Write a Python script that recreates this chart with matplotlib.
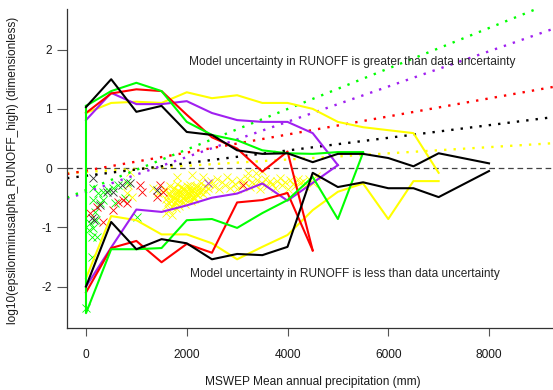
import matplotlib
matplotlib.use("Agg")
import matplotlib.pyplot as plt
import numpy as np

plt.rcParams['font.family'] = ['Liberation Sans', 'DejaVu Sans']
plt.rcParams['font.size'] = 8.6

# Series colours
C_BLACK = "black"
C_RED = "#FF0000"
C_GREEN = "#00FF00"
C_PURPLE = "#A020F0"
C_YELLOW = "#FFFF00"

# Upper / lower envelopes, precipitation (mm) vs log10 ratio
black_up_x = [0, 500, 1000, 1500, 2000, 2500, 3000, 3500, 4000, 4500, 5000, 5500, 6000, 6500, 7000, 8000]
black_up_y = [1.03, 1.50, 0.95, 1.05, 0.61, 0.56, 0.30, 0.24, 0.25, 0.10, 0.24, 0.24, 0.17, 0.03, 0.25, 0.08]
black_lo_x = [0, 500, 1000, 1500, 2000, 2500, 3000, 3500, 4000, 4500, 5000, 5500, 6000, 6500, 7000, 8000]
black_lo_y = [-2.00, -0.91, -1.37, -1.20, -1.27, -1.54, -1.45, -1.47, -1.33, -0.08, -0.32, -0.24, -0.34, -0.34, -0.49, -0.05]

red_up_x = [0, 500, 1000, 1500, 2000, 2500, 3000, 3500, 4000, 4500]
red_up_y = [0.93, 1.26, 1.33, 1.30, 0.90, 0.52, 0.33, -0.06, 0.28, -1.39]
red_lo_x = [0, 500, 1000, 1500, 2000, 2500, 3000, 3500, 4000, 4500]
red_lo_y = [-2.10, -1.35, -1.23, -1.59, -1.28, -1.43, -0.58, -0.54, -0.42, -1.39]

green_up_x = [0, 500, 1000, 1500, 2000, 2500, 3000, 3500, 4000, 4500, 5000, 5500]
green_up_y = [1.05, 1.30, 1.44, 1.30, 0.78, 0.56, 0.47, 0.30, 0.25, 0.24, 0.27, 0.27]
green_lo_x = [0, 0, 500, 1000, 1500, 2000, 2500, 3000, 3500, 4000, 4500, 5000, 5500]
green_lo_y = [1.05, -2.45, -1.37, -1.37, -1.35, -0.88, -0.86, -1.01, -0.76, -0.54, -0.15, -0.86, 0.26]

purple_up_x = [0, 500, 1000, 1500, 2000, 2500, 3000, 3500, 4000, 4500, 5000]
purple_up_y = [0.81, 1.27, 1.08, 1.08, 1.13, 0.93, 0.81, 0.78, 0.78, 0.59, 0.05]
purple_lo_x = [0, 500, 1000, 1500, 2000, 2500, 3000, 3500, 4000, 5000]
purple_lo_y = [-2.00, -1.34, -0.70, -0.74, -0.63, -0.50, -0.43, -0.26, -0.55, 0.05]

yellow_up_x = [0, 500, 1000, 1500, 2000, 2500, 3000, 3500, 4000, 4500, 5000, 5500, 6000, 6500, 7000]
yellow_up_y = [0.93, 1.10, 1.12, 1.10, 1.28, 1.18, 1.23, 1.10, 1.10, 1.00, 0.78, 0.69, 0.64, 0.59, -0.08]
yellow_lo_x = [0, 500, 1000, 1500, 2000, 2500, 3000, 3500, 4000, 4500, 5000, 5500, 6000, 6500, 7000]
yellow_lo_y = [-1.86, -0.81, -0.88, -1.12, -1.12, -1.27, -1.54, -1.33, -1.13, -0.71, -0.40, -0.26, -0.86, -0.22, -0.22]

# Linear fits: intercept and slope (per mm)
fit_intercept = {"green": -0.371, "purple": -0.408, "red": -0.043, "black": -0.130, "yellow": -0.065}
fit_slope = {"green": 3.42e-4, "purple": 2.975e-4, "red": 1.524e-4, "black": 1.068e-4, "yellow": 5.23e-5}

# Individual basins
green_pts_x = [139, 238, 337, 139, 278, 179, 79, 139, 119, 218, 337, 437, 536, 635, 774, 576, 814, 1012, 119, 0, 60, 200]
green_pts_y = [-0.34, -0.42, -0.41, -0.54, -0.59, -0.74, -0.93, -1.01, -1.17, -1.17, -0.54, -0.37, -0.34, -0.29, -0.51, -0.59, -0.24, -0.83, -1.50, -2.36, -1.05, -0.88]
black_pts_x = [139, 417, 278, 119, 160, 715, 873, 1409, 536]
black_pts_y = [-0.17, -0.41, -0.63, -0.84, -0.88, -0.29, -0.25, -0.37, -0.41]
red_pts_x = [218, 337, 536, 635, 734, 1072, 1112, 1469, 1528, 1409, 79, 814, 3116]
red_pts_y = [-0.66, -0.91, -0.71, -0.57, -0.54, -0.29, -0.41, -0.29, -0.41, -0.49, -0.76, -0.59, -0.29]
purple_pts_x = [2422]
purple_pts_y = [-0.25]
yellow_pts_x = [814, 913, 834, 1330, 1429, 880, 1800, 2100, 2320,
                1560, 1580, 1600, 1620, 1640, 1660, 1680, 1700, 1710, 1730, 1750, 1760, 1780, 1800,
                1810, 1830, 1840, 1860, 1880, 1890, 1910, 1930, 1950, 1960, 1980, 2000, 2010, 2030,
                2050, 2070, 2090, 2110, 2130, 2150, 2170, 2190, 2210, 2230, 2250, 2270, 2300, 2330,
                2360, 2390, 2420, 2450, 1620, 1690, 1720, 1770, 1820, 1870, 1920, 1970, 2020, 2080,
                2140, 2200, 1650, 1740, 1850, 1990, 2060, 2120, 2280, 1590, 1700, 1780,
                2480, 2550, 2600, 2650, 2700, 2760, 2800, 2850, 2900, 2960, 3000, 3050, 3100, 3150,
                3200, 3260, 3300, 3360, 3400, 3450, 3500, 3560, 3600, 3660, 3700, 3760, 3800, 3860,
                3900, 3950, 4000, 4050, 4100, 4150, 4200, 4250, 4300, 4350, 4420, 4500, 4560, 3500,
                3380, 3220]
yellow_pts_y = [-0.42, -0.49, -0.29, -0.34, -0.42, -0.06, -0.15, -0.12, -0.15,
                -0.35, -0.52, -0.62, -0.44, -0.70, -0.30, -0.55, -0.40, -0.66, -0.48, -0.34, -0.58, -0.43, -0.27,
                -0.52, -0.38, -0.64, -0.46, -0.32, -0.56, -0.42, -0.50, -0.36, -0.60, -0.45, -0.30, -0.53, -0.40,
                -0.47, -0.34, -0.55, -0.42, -0.37, -0.49, -0.31, -0.44, -0.38, -0.46, -0.33, -0.41, -0.36, -0.43,
                -0.30, -0.39, -0.34, -0.27, -0.58, -0.47, -0.36, -0.50, -0.44, -0.40, -0.33, -0.52, -0.45, -0.38,
                -0.52, -0.30, -0.42, -0.60, -0.55, -0.38, -0.28, -0.48, -0.25, -0.76, -0.80, -0.68,
                -0.22, -0.30, -0.18, -0.35, -0.24, -0.28, -0.15, -0.33, -0.22, -0.27, -0.36, -0.20, -0.30, -0.25,
                -0.17, -0.32, -0.23, -0.28, -0.20, -0.35, -0.26, -0.18, -0.30, -0.22, -0.27, -0.33, -0.21, -0.16,
                -0.29, -0.24, -0.35, -0.20, -0.27, -0.31, -0.18, -0.25, -0.22, -0.30, -0.19, -0.26, -0.14, -0.05,
                -0.09, -0.08]

x_ticks = [0, 2000, 4000, 6000, 8000]
y_ticks = [-2, -1, 0, 1, 2]

fig = plt.figure(figsize=(5.53, 3.90), dpi=100)
ax = fig.add_axes([67 / 553, 62 / 390, (553 - 67) / 553, (328 - 9) / 390])
ax.set_xlim(-377, 9270)
ax.set_ylim(-2.70, 2.686)

# Scatter of basins (drawn first, under the lines)
mk = dict(marker="x", linestyle="none", markersize=5.3, markeredgewidth=0.6)
ax.plot(yellow_pts_x, yellow_pts_y, color=C_YELLOW, **mk)
ax.plot(green_pts_x, green_pts_y, color=C_GREEN, **mk)
ax.plot(red_pts_x, red_pts_y, color=C_RED, **mk)
ax.plot(black_pts_x, black_pts_y, color="#333333", **mk)
ax.plot(purple_pts_x, purple_pts_y, color=C_PURPLE, **mk)

# Zero reference line
ax.axhline(0, color="#444444", lw=0.9, linestyle=(0, (4.5, 3)))

# Fitted trends
xs = np.array(ax.get_xlim())
fit_colors = {"green": C_GREEN, "purple": C_PURPLE, "red": C_RED, "black": C_BLACK, "yellow": C_YELLOW}
for name in ["yellow", "black", "red", "purple", "green"]:
    ax.plot(xs, fit_intercept[name] + fit_slope[name] * xs, color=fit_colors[name],
            lw=1.7, linestyle=(0, (1, 3.0)), dash_capstyle="butt")

# Envelopes
lw = 1.5
for (ux, uy, lx, ly, c) in [
    (yellow_up_x, yellow_up_y, yellow_lo_x, yellow_lo_y, C_YELLOW),
    (purple_up_x, purple_up_y, purple_lo_x, purple_lo_y, C_PURPLE),
    (red_up_x, red_up_y, red_lo_x, red_lo_y, C_RED),
    (green_up_x, green_up_y, green_lo_x, green_lo_y, C_GREEN),
    (black_up_x, black_up_y, black_lo_x, black_lo_y, C_BLACK),
]:
    ax.plot(ux, uy, color=c, lw=lw)
    ax.plot(lx, ly, color=c, lw=lw)

ax.text(5290, 1.79, "Model uncertainty in RUNOFF is greater than data uncertainty",
        ha="center", va="center", color="#262626")
ax.text(5131, -1.79, "Model uncertainty in RUNOFF is less than data uncertainty",
        ha="center", va="center", color="#262626")

for s in ["top", "right"]:
    ax.spines[s].set_visible(False)
for s in ["left", "bottom"]:
    ax.spines[s].set_color("#333333")
    ax.spines[s].set_linewidth(0.9)

ax.set_xticks(x_ticks)
ax.set_yticks(y_ticks)
ax.set_yticklabels([str(v) for v in y_ticks])
ax.tick_params(axis="x", direction="out", length=6, width=0.8, color="#555555", pad=9, labelcolor="#1a1a1a")
ax.tick_params(axis="y", direction="out", length=7, width=0.8, color="#555555", pad=4, labelcolor="#1a1a1a")

fig.text(313 / 553, 1 - 382 / 390, "MSWEP Mean annual precipitation (mm)",
         ha="center", va="center", color="#1a1a1a")
fig.text(13 / 553, 1 - 170 / 390, "log10(epsilonminusalpha_RUNOFF_high) (dimensionless)",
         ha="center", va="center", rotation=90, color="#1a1a1a")

fig.savefig("out.png", dpi=100)
